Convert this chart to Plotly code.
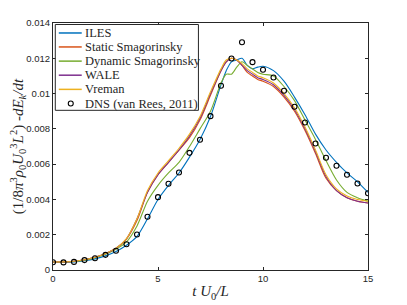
import plotly.graph_objects as go

t = [0, 0.5, 1, 1.5, 2, 2.5, 3, 3.5, 4, 4.5, 5, 5.5, 6, 6.5, 7, 7.5, 8, 8.25, 8.5, 8.75,
     9, 9.25, 9.5, 9.75, 10, 10.5, 11, 11.5, 12, 12.5, 13, 13.5, 14, 14.5, 15]

iles = [0.00043, 0.00043, 0.00045, 0.00052, 0.00063, 0.0008, 0.00105, 0.0014, 0.0019, 0.0029,
        0.0040, 0.0048, 0.0055, 0.0064, 0.0074, 0.0087, 0.0105, 0.0113, 0.0118, 0.0119,
        0.0120, 0.0116, 0.0114, 0.0115, 0.01155, 0.0113, 0.0107, 0.0098, 0.0088, 0.0077,
        0.0068, 0.0061, 0.0055, 0.0050, 0.0044]

static_smag = [0.00045, 0.00046, 0.0005, 0.00058, 0.00072, 0.00093, 0.00122, 0.00175, 0.0028, 0.0044,
               0.0054, 0.0061, 0.0068, 0.0075, 0.0085, 0.0099, 0.0113, 0.0118, 0.0120, 0.0119,
               0.0116, 0.0112, 0.0110, 0.0108, 0.0107, 0.0104, 0.0098, 0.0090, 0.0079, 0.0066,
               0.0052, 0.0045, 0.0041, 0.0039, 0.0038]

dynamic_smag = [0.00045, 0.00045, 0.00048, 0.00056, 0.0007, 0.0009, 0.00118, 0.0016, 0.0025, 0.0039,
                0.0048, 0.0055, 0.0061, 0.0070, 0.0080, 0.0090, 0.0106, 0.0111, 0.0111, 0.0115,
                0.0118, 0.0116, 0.0114, 0.0112, 0.0111, 0.0110, 0.0104, 0.0096, 0.0085, 0.0074,
                0.0062, 0.0051, 0.0044, 0.0041, 0.0039]

wale = [0.00045, 0.00046, 0.0005, 0.00058, 0.00072, 0.00093, 0.00123, 0.00177, 0.0029, 0.0044,
        0.0054, 0.0061, 0.0068, 0.0076, 0.0086, 0.0100, 0.0113, 0.0118, 0.0120, 0.0119,
        0.0116, 0.0113, 0.0111, 0.0109, 0.0108, 0.0105, 0.0099, 0.0091, 0.0080, 0.0067,
        0.0053, 0.0045, 0.0041, 0.0039, 0.0038]

vreman = [0.00045, 0.00046, 0.0005, 0.00058, 0.00072, 0.00094, 0.00124, 0.00178, 0.0029, 0.0045,
          0.0055, 0.0062, 0.0069, 0.0077, 0.0087, 0.0101, 0.0114, 0.0119, 0.0120, 0.0119,
          0.0117, 0.0114, 0.0112, 0.0110, 0.0109, 0.0106, 0.0100, 0.0092, 0.0081, 0.0068,
          0.0054, 0.0046, 0.0042, 0.0040, 0.0039]

dns_t = [0, 0.5, 1, 1.5, 2, 2.5, 3, 3.5, 4, 4.5, 5, 5.5, 6, 6.5, 7, 7.5, 8, 8.5, 9, 9.5,
         10, 10.5, 11, 11.5, 12, 12.5, 13, 13.5, 14, 14.5, 15]
dns = [0.00044, 0.00043, 0.00046, 0.00056, 0.00067, 0.00086, 0.00109, 0.00146, 0.00201, 0.00302,
       0.00413, 0.00489, 0.00553, 0.00664, 0.00738, 0.00872, 0.01044, 0.01199, 0.01291, 0.01178,
       0.01135, 0.01091, 0.01016, 0.00925, 0.00836, 0.00717, 0.00636, 0.00591, 0.0054, 0.0049,
       0.00435]

x_ticks = [0, 5, 10, 15]
y_ticks = [0, 0.002, 0.004, 0.006, 0.008, 0.01, 0.012, 0.014]
y_tick_text = ["0", "0.002", "0.004", "0.006", "0.008", "0.01", "0.012", "0.014"]

series = [
    ("ILES", iles, "#0072BD"),
    ("Static Smagorinsky", static_smag, "#D95319"),
    ("Dynamic Smagorinsky", dynamic_smag, "#77AC30"),
    ("WALE", wale, "#7E2F8E"),
    ("Vreman", vreman, "#EDB120"),
]
dns_name = "DNS (van Rees, 2011)"

# page body has an 8px margin; target plot area in window pixels: x 52.7..368.5, y 23..270.5
OFF = 8
PL, PR, PT, PB = 52.7, 368.5, 23.0, 270.5
W, H = 399, 297
ML, MT = PL - OFF, PT - OFF
PW, PH = PR - PL, PB - PT
MR, MB = W - ML - PW, H - MT - PH


def px(x):
    return (x - PL) / PW


def py(y):
    return (PB - y) / PH


fig = go.Figure()
for name, vals, col in series:
    fig.add_trace(go.Scatter(x=t, y=vals, mode="lines", name=name, showlegend=False,
                             line=dict(color=col, width=1.1, shape="spline", smoothing=0.8)))
fig.add_trace(go.Scatter(x=dns_t, y=dns, mode="markers", name=dns_name, showlegend=False,
                         marker=dict(symbol="circle-open", size=5, color="black",
                                     line=dict(width=1.1, color="black"))))

serif = "Liberation Serif"

# compact MATLAB-style legend
shapes = [dict(type="rect", xref="paper", yref="paper",
               x0=px(55), x1=px(198.5), y0=py(110.5), y1=py(24.5),
               line=dict(color="#262626", width=1), fillcolor="white", layer="above")]
annotations = []
row_y = [33, 47, 61.2, 75.3, 89.5, 103.7]
entries = [(n, c) for n, _, c in series] + [(dns_name, None)]
for (name, col), yy in zip(entries, row_y):
    if col is not None:
        shapes.append(dict(type="line", xref="paper", yref="paper",
                           x0=px(58.5), x1=px(81.5), y0=py(yy), y1=py(yy),
                           line=dict(color=col, width=1.5), layer="above"))
    else:
        shapes.append(dict(type="circle", xref="paper", yref="paper",
                           x0=px(68), x1=px(73), y0=py(yy + 2.5), y1=py(yy - 2.5),
                           line=dict(color="black", width=1.1), layer="above"))
    annotations.append(dict(text=name, xref="paper", yref="paper", x=px(83), y=py(yy),
                            xanchor="left", yanchor="middle", showarrow=False,
                            font=dict(family=serif, size=12.5, color="#262626")))

axis_common = dict(showline=True, linecolor="#262626", linewidth=1, mirror="ticks",
                   ticks="inside", ticklen=3, tickcolor="#262626", showgrid=False,
                   zeroline=False, automargin=False,
                   tickfont=dict(family="Liberation Sans", size=9.5, color="#262626"))

fig.update_layout(
    width=W, height=H,
    margin=dict(l=ML, r=MR, t=MT, b=MB, pad=0),
    paper_bgcolor="white", plot_bgcolor="white",
    showlegend=False,
    shapes=shapes, annotations=annotations,
    xaxis=dict(range=[0, 15], tickvals=x_ticks, ticktext=[str(v) for v in x_ticks],
               title=dict(text="<i>t U</i><sub>0</sub><i>/L</i>",
                          font=dict(family=serif, size=15, color="#262626"), standoff=2),
               **axis_common),
    yaxis=dict(range=[0, 0.014], tickvals=y_ticks, ticktext=y_tick_text,
               title=dict(text="(1/8<i>π</i><sup>3</sup><i>ρ</i><sub>0</sub><i>U</i><sub>0</sub><sup>3</sup><i>L</i><sup>2</sup>) -<i>dE<sub>k</sub>/dt</i>",
                          font=dict(family=serif, size=15, color="#262626"), standoff=4),
               **axis_common),
)

fig.write_html("out.html")
